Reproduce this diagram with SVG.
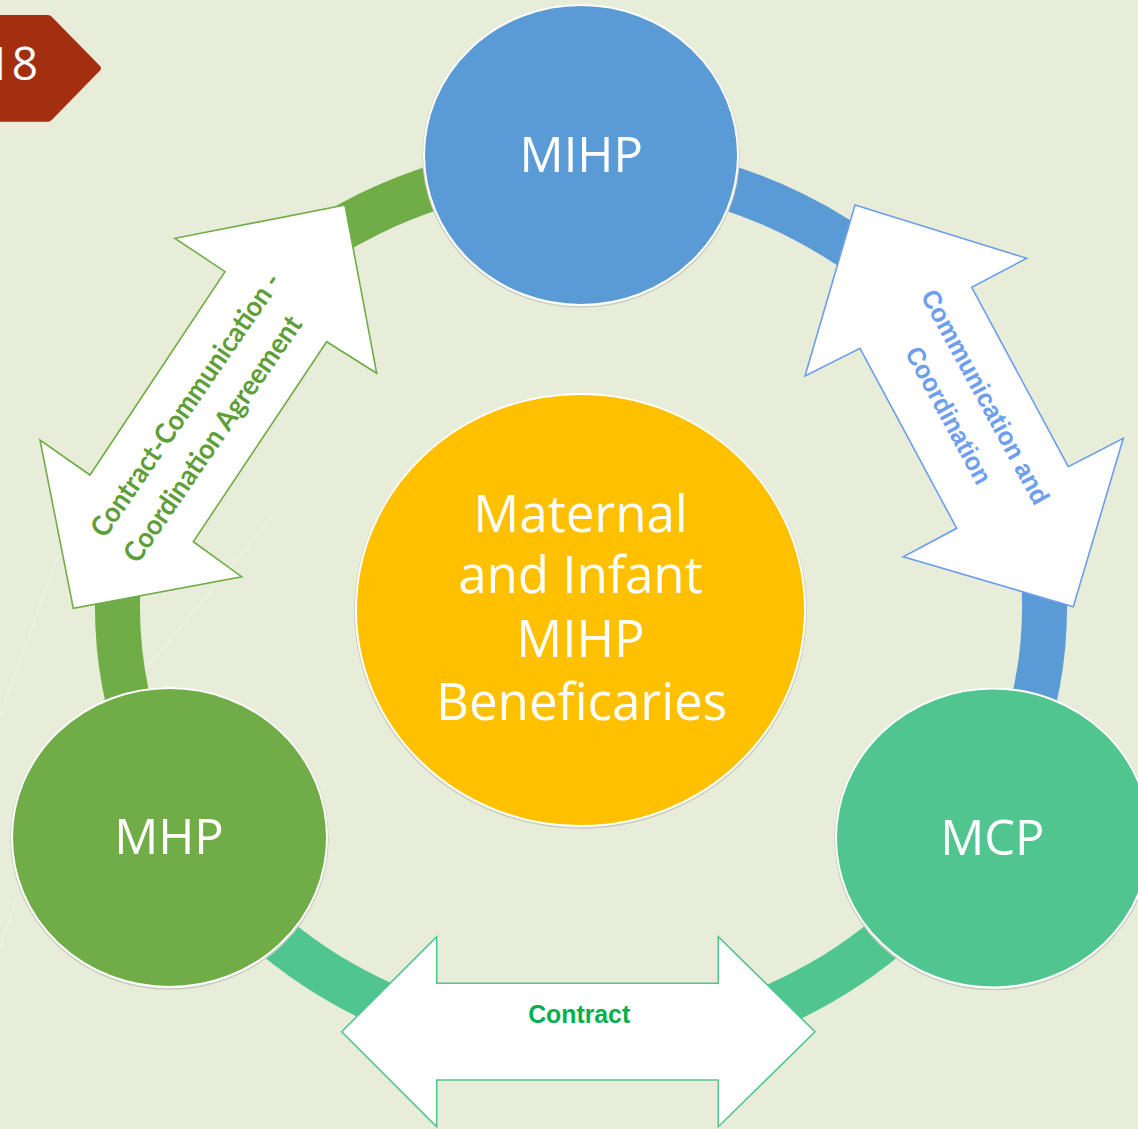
<svg xmlns="http://www.w3.org/2000/svg" width="1138" height="1129" viewBox="0 0 1138 1129">
<defs>
<style>
.bg{fill:#E8EDDA}
.faint{stroke:#F4F7EC;stroke-width:1.2;fill:none;opacity:0.55}
.ring{fill:none;stroke-width:45}
.node{stroke:#FFFFFF;stroke-width:2}
.shadow{fill:none;stroke:#C9CDBD;stroke-width:1.5}
.lbl{font-family:"Open Sans","Noto Sans","Liberation Sans",sans-serif;fill:#FFFFFF;text-anchor:middle}
.arrow{fill:#FFFFFF;stroke-width:1.6;stroke-linejoin:miter}
.atxt{font-weight:bold;text-anchor:middle}
</style>
</defs>
<rect class="bg" x="0" y="0" width="1138" height="1129"/>
<line class="faint" x1="275" y1="513" x2="140" y2="676"/>
<line class="faint" x1="58" y1="556" x2="0" y2="715"/>
<line class="faint" x1="17" y1="897" x2="0" y2="947"/>

<g id="badge">
<path d="M0,15 H48 Q50,15 52,17 L100,66 Q102,68.3 100,70.6 L52,119.7 Q50,121.7 48,121.7 H0 Z" fill="#A42F10"/>
<text x="38" y="80" font-family="'Open Sans','Noto Sans',sans-serif" font-size="46" fill="#FFFFFF" text-anchor="end">18</text>
</g>

<g id="connectors">
<path class="ring" stroke="#70AD47" d="M169.5,809 A464,441 0 0 1 581,165"/>
<path class="ring" stroke="#5B9BD5" d="M581,165 A464,441 0 0 1 992.5,809"/>
<path class="ring" stroke="#50C58F" d="M992.5,809 A464,441 0 0 1 169.5,809"/>

<g id="arrow-left">
<polygon class="arrow" stroke="#70AD47" points="345,205 175,238.3 225,271.7 90,475 40,440 73.3,608.3 241.7,576.7 193.3,541.7 326.7,341.7 376.7,373.3"/>
<g font-family="Lato,'Open Sans','Liberation Sans',sans-serif" font-size="28" fill="#5E9E38" class="atxt">
<text transform="translate(185.3,404.5) rotate(-55.5)" x="0" y="10" textLength="313" lengthAdjust="spacingAndGlyphs">Contract-Communication -</text>
<text transform="translate(212.3,438.7) rotate(-55.5)" x="0" y="10" textLength="292" lengthAdjust="spacingAndGlyphs">Coordination Agreement</text>
</g>
</g>

<g id="arrow-right">
<polygon class="arrow" stroke="#6D9EEB" points="855,205 1026.7,258.3 971.7,287.3 1068.3,466.7 1123.3,438.3 1073.3,606.7 903.3,556.7 956.7,528.3 860,348.3 805,376"/>
<g font-family="'Liberation Sans',Arial,sans-serif" font-size="26" fill="#6E9EEE" class="atxt">
<text transform="translate(985.8,396.7) rotate(61.5)" x="0" y="9.5" textLength="240" lengthAdjust="spacingAndGlyphs">Communication and</text>
<text transform="translate(949.2,415) rotate(61.5)" x="0" y="9.5" textLength="152" lengthAdjust="spacingAndGlyphs">Coordination</text>
</g>
</g>

<g id="arrow-bottom">
<polygon class="arrow" stroke="#50C58F" stroke-width="2" points="341.7,1031.7 436.7,936.7 436.7,983.3 718.3,983.3 718.3,936.7 815,1031.7 718.3,1126.7 718.3,1080 436.7,1080 436.7,1126.7"/>
<text x="579.2" y="1023.3" font-family="'Liberation Sans',Arial,sans-serif" font-size="25" fill="#00B050" class="atxt" textLength="102" lengthAdjust="spacingAndGlyphs">Contract</text>
</g>
</g>

<g id="center">
<ellipse class="shadow" cx="580.5" cy="611" rx="225.5" ry="217"/>
<ellipse class="node" cx="580.5" cy="610" rx="224.5" ry="216" fill="#FFC000"/>
<text class="lbl" font-size="51" x="580.5" y="531.7">Maternal</text>
<text class="lbl" font-size="51" x="580.5" y="593.3">and Infant</text>
<text class="lbl" font-size="51" x="580.5" y="656.7">MIHP</text>
<text class="lbl" font-size="51" x="581.5" y="720">Beneficaries</text>
</g>

<g id="node-mihp">
<ellipse class="shadow" cx="581" cy="156" rx="158" ry="151"/>
<ellipse class="node" cx="581" cy="155" rx="157" ry="150" fill="#5B9BD5"/>
<text class="lbl" font-size="49" x="581.3" y="171.7">MIHP</text>
</g>

<g id="node-mhp">
<ellipse class="shadow" cx="169.5" cy="838.5" rx="158.5" ry="150.5"/>
<ellipse class="node" cx="169.5" cy="837.5" rx="157.5" ry="149.5" fill="#70AD47"/>
<text class="lbl" font-size="49" x="169" y="853.5">MHP</text>
</g>

<g id="node-mcp">
<ellipse class="shadow" cx="993" cy="839" rx="158" ry="150.5"/>
<ellipse class="node" cx="993" cy="838" rx="157" ry="149.5" fill="#50C58F"/>
<text class="lbl" font-size="49" x="992.4" y="854.5">MCP</text>
</g>
</svg>
